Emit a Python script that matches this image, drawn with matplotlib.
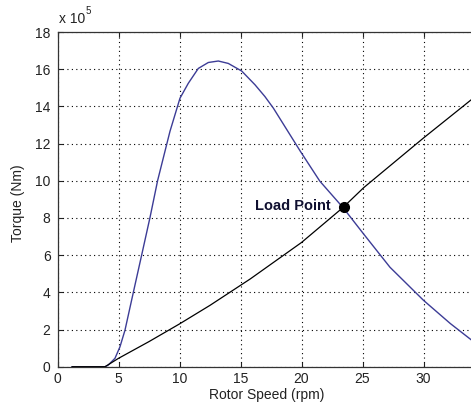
import matplotlib
matplotlib.use("Agg")
import matplotlib.pyplot as plt

plt.rcParams['font.family'] = ['Liberation Sans', 'DejaVu Sans']

# Data (torque in units of 10^5 Nm)
motor_speed = [1.2, 3.9, 4.16, 4.71, 5.12, 5.53, 6.21, 6.9, 7.58, 8.21, 8.7,
               9.22, 10.04, 10.72, 11.54, 12.36, 13.18, 14.0, 15.1, 16.19,
               17.0, 17.7, 19.9, 21.5, 23.4, 25.1, 27.25, 30.0, 32.2, 34.0,
               35.0]
motor_torque = [0.0, 0.0, 0.09, 0.45, 1.07, 1.96, 3.98, 6.01, 8.02, 10.02,
                11.3, 12.66, 14.44, 15.24, 16.04, 16.36, 16.44, 16.31, 15.9,
                15.16, 14.53, 13.9, 11.59, 9.98, 8.56, 7.13, 5.35, 3.57, 2.32,
                1.4, 1.05]
load_speed = [1.2, 3.9, 5.0, 7.5, 10.0, 12.5, 15.8, 20.0, 23.4, 25.1, 30.0,
              33.9, 35.0]
load_torque = [0.0, 0.0, 0.45, 1.35, 2.3, 3.3, 4.72, 6.68, 8.56, 9.63, 12.3,
               14.35, 14.9]
load_point = (23.5, 8.6)
x_ticks = [0, 5, 10, 15, 20, 25, 30]
y_ticks = [0, 2, 4, 6, 8, 10, 12, 14, 16, 18]

W, H = 471, 412
fig = plt.figure(figsize=(W / 100, H / 100), dpi=100)
fig.patch.set_facecolor('white')

left, bottom, top = 57.5, 366.7, 32.0
px_per_unit = 12.2
xmax = 35
width_px = xmax * px_per_unit
ax = fig.add_axes([left / W, (H - bottom) / H, width_px / W, (bottom - top) / H])

ax.plot(motor_speed, motor_torque, color='#3c3c96', lw=1.0)
ax.plot(load_speed, load_torque, color='black', lw=0.9)
ax.plot([load_point[0]], [load_point[1]], 'o', color='black', ms=7)
ax.annotate('Load Point', xy=load_point, xytext=(-9.5, 0.5),
            textcoords='offset points', ha='right', va='center',
            fontsize=10.5, fontweight='bold', color='#101030')

ax.set_xlim(0, xmax)
ax.set_ylim(0, 18)
ax.set_xticks(x_ticks)
ax.set_yticks(y_ticks)
ax.grid(True, color='black', linestyle=(0, (1, 3)), linewidth=0.8)
ax.tick_params(direction='in', length=3.5, width=0.8, top=True, right=True,
               labelsize=10, colors='#222222')
ax.tick_params(axis='x', pad=4)
ax.tick_params(axis='y', pad=5)
for s in ax.spines.values():
    s.set_color('#333333')
    s.set_linewidth(0.9)

ax.set_xlabel('Rotor Speed (rpm)', fontsize=10, color='#222222')
ax.set_ylabel('Torque (Nm)', fontsize=10, color='#222222')
ax.xaxis.set_label_coords((266.5 - left) / width_px, -0.065)
ax.yaxis.set_label_coords(-0.077, 0.49)

fig.text(59 / W, 1 - 23 / H, 'x 10', fontsize=10, color='#222222', va='baseline')
fig.text(86 / W, 1 - 14 / H, '5', fontsize=7, color='#222222', va='baseline')

fig.savefig('out.png', dpi=100, facecolor='white')
